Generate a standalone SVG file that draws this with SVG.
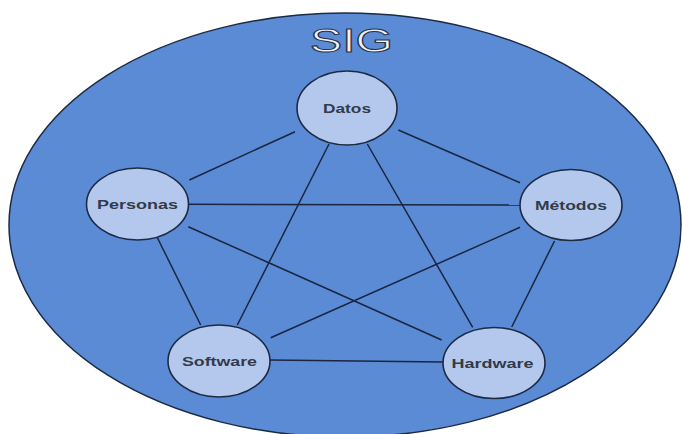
<svg xmlns="http://www.w3.org/2000/svg" width="682" height="434" viewBox="0 0 682 434">
<style>
.bg{fill:#5b8bd5;stroke:#1c2a44;stroke-width:1.5}
.node{fill:#b4c8ee;stroke:#1c2a44;stroke-width:1.6}
.lbl{font-family:"Liberation Sans",Arial,sans-serif;font-size:13.5px;font-weight:bold;fill:#333a48;text-anchor:middle}
.title{font-family:"Liberation Sans",Arial,sans-serif;font-size:33px;fill:#eef2fa;stroke:#2a3448;stroke-width:1;text-anchor:middle}
#connectors line{stroke:#1a2540;stroke-width:1.5}
</style>
<rect width="682" height="434" fill="#ffffff"/>
<g id="sig">
<ellipse class="bg" cx="345" cy="225" rx="336" ry="212"/>
<text class="title" x="351.5" y="52" textLength="83" lengthAdjust="spacingAndGlyphs">SIG</text>
</g>
<g id="connectors">
<line x1="295" y1="131.7" x2="189.3" y2="180"/>
<line x1="398.3" y1="130" x2="520" y2="182.7"/>
<line x1="329" y1="144" x2="237.3" y2="325"/>
<line x1="367.3" y1="144" x2="472.7" y2="327.3"/>
<line x1="186.7" y1="204.3" x2="520" y2="205"/>
<line x1="188.3" y1="226.7" x2="441.7" y2="340"/>
<line x1="520" y1="227.3" x2="270.7" y2="337.7"/>
<line x1="157.5" y1="238" x2="200.7" y2="325"/>
<line x1="554.5" y1="241" x2="511.7" y2="327"/>
<line x1="270" y1="360" x2="443" y2="362"/>
</g>
<g id="datos">
<ellipse class="node" cx="347" cy="108" rx="50" ry="37"/>
<text class="lbl" x="347" y="113" textLength="48" lengthAdjust="spacingAndGlyphs">Datos</text>
</g>
<g id="personas">
<ellipse class="node" cx="137.5" cy="204" rx="51" ry="36"/>
<text class="lbl" x="137.5" y="209" textLength="81" lengthAdjust="spacingAndGlyphs">Personas</text>
</g>
<g id="metodos">
<ellipse class="node" cx="571" cy="205" rx="51" ry="35.5"/>
<text class="lbl" x="571" y="210" textLength="72" lengthAdjust="spacingAndGlyphs">Métodos</text>
</g>
<g id="software">
<ellipse class="node" cx="219" cy="361" rx="51" ry="36"/>
<text class="lbl" x="219.5" y="366" textLength="75" lengthAdjust="spacingAndGlyphs">Software</text>
</g>
<g id="hardware">
<ellipse class="node" cx="494" cy="363" rx="51" ry="35.5"/>
<text class="lbl" x="492.5" y="367.5" textLength="82" lengthAdjust="spacingAndGlyphs">Hardware</text>
</g>
</svg>
